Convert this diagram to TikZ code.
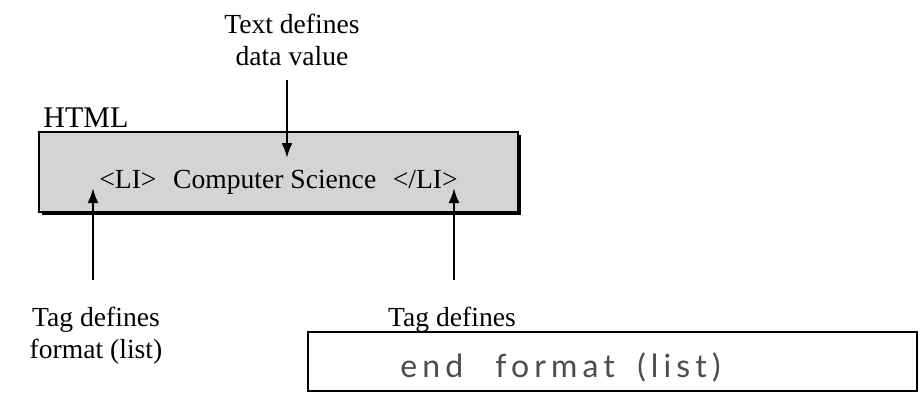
\documentclass[tikz,border=0pt]{standalone}
\usepackage{fontspec}
\setmainfont{Liberation Serif}
\newfontfamily\handfont[LetterSpace=16]{Lato}
\usetikzlibrary{positioning,arrows.meta,shadows}
\tikzset{
  tagarrow/.style={-{Latex[length=7.5pt,width=5.5pt]}, line width=1.2pt},
  lbl/.style={inner sep=0pt, align=center, font=\fontsize{13.8}{16}\selectfont},
  htmlbox/.style={draw, line width=1.3pt, fill=black!17, minimum width=239.5pt, minimum height=40pt,
    drop shadow={shadow xshift=1.5pt, shadow yshift=-1.5pt, fill=black, opacity=1}},
  handbox/.style={draw, line width=1pt, fill=white, minimum width=304.5pt, minimum height=29.5pt},
  handtext/.style={inner sep=0pt, text=black!70, font=\handfont\fontsize{16}{18}\selectfont}
}
\begin{document}
\begin{tikzpicture}[x=0.5pt, y=-0.5pt]
  \useasboundingbox (0,0) rectangle (921,393);
  % the HTML element
  \node[htmlbox] (html) at (278.5,172) {};
  \node[lbl, anchor=base west, font=\fontsize{15}{16}\selectfont] (htmltag) at (43,127) {HTML};
  \node[lbl, anchor=base] (line) at (278.5,188)
    {<LI>\hspace{0.6em}Computer Science\hspace{0.6em}</LI>};
  % labels
  \node[lbl, anchor=north] (valtxt) at (292,14) {Text defines\\data value};
  \node[lbl, anchor=north] (fmttxt) at (96,307) {Tag defines\\format (list)};
  \node[handbox] (endbox) at (612.5,361.5) {};
  \node[lbl, anchor=base] (endtxt) at (452,326) {Tag defines};
  \node[handtext, anchor=base west] (endhand) at (400,377) {end\hspace{1em}format\hspace{0.7em}(list)};
  % arrow ends
  \coordinate (valtail) at (287,80);
  \coordinate (valtip) at (287,158);
  \coordinate (fmttail) at (93,280);
  \coordinate (fmttip) at (93,188);
  \coordinate (endtail) at (454,280);
  \coordinate (endtip) at (454,188);
  \draw[tagarrow] (valtail) -- (valtip);
  \draw[tagarrow] (fmttail) -- (fmttip);
  \draw[tagarrow] (endtail) -- (endtip);
\end{tikzpicture}
\end{document}
